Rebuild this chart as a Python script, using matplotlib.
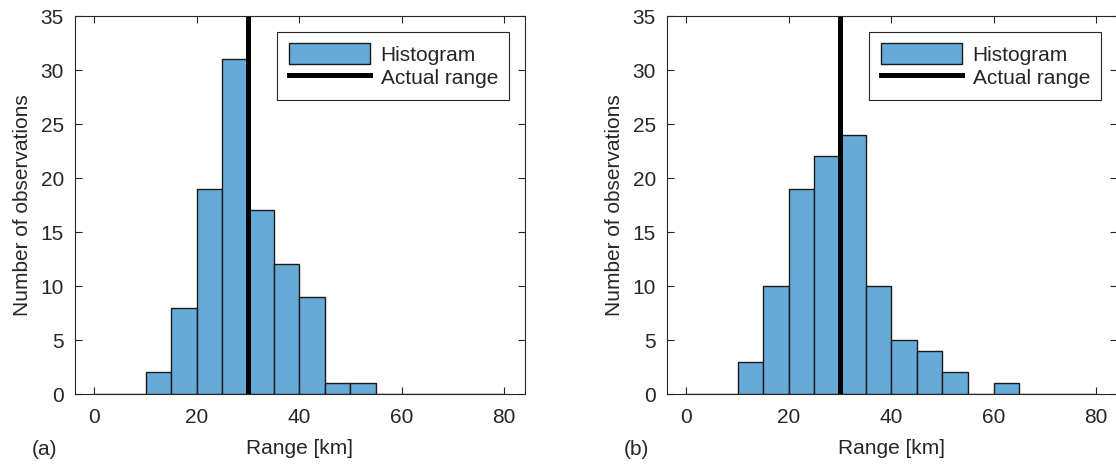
import numpy as np
import matplotlib
matplotlib.use('Agg')
import matplotlib.pyplot as plt

# Histogram data (bin width 5 km, 0 to 80 km)
bin_edges = np.arange(0, 85, 5)
counts_a = [0, 0, 2, 8, 19, 31, 17, 12, 9, 1, 1, 0, 0, 0, 0, 0]
counts_b = [0, 0, 3, 10, 19, 22, 24, 10, 5, 4, 2, 0, 1, 0, 0, 0]
actual_range = 30
panel_labels = ['(a)', '(b)']

plt.rcParams['font.family'] = ['Liberation Sans', 'DejaVu Sans']
plt.rcParams['font.size'] = 15

bar_color = (0.4, 0.668, 0.845)
txt = '#262626'

fig = plt.figure(figsize=(11.16, 4.65), dpi=100)
ax_a = fig.add_axes([75 / 1116, 71 / 465, 450 / 1116, 378 / 465])
ax_b = fig.add_axes([667 / 1116, 71 / 465, 450 / 1116, 378 / 465])

for ax, counts, lab in zip([ax_a, ax_b], [counts_a, counts_b], panel_labels):
    bars = ax.bar(bin_edges[:-1], counts, width=5, align='edge', color=bar_color,
                  edgecolor='#1a1a1a', linewidth=1.0, label='Histogram')
    line = ax.axvline(actual_range, color='black', linewidth=3.6, label='Actual range')
    ax.set_xlim(-3.8, 84.1)
    ax.set_ylim(0, 35)
    ax.set_xticks([0, 20, 40, 60, 80])
    ax.set_yticks(np.arange(0, 36, 5))
    ax.tick_params(direction='in', top=True, right=True, length=5,
                   width=0.8, colors=txt, labelsize=15)
    ax.tick_params(axis='x', pad=10)
    ax.tick_params(axis='y', pad=8)
    for s in ax.spines.values():
        s.set_color(txt)
        s.set_linewidth(0.8)
    ax.set_xlabel('Range [km]', fontsize=15, color=txt, labelpad=9)
    ax.set_ylabel('Number of observations', fontsize=15, color=txt, labelpad=6)
    leg = ax.legend([bars, line], ['Histogram', 'Actual range'],
                    loc='upper right', fancybox=False, framealpha=1,
                    edgecolor=txt, handlelength=3.9, handleheight=1.2,
                    borderaxespad=0.75, labelspacing=0.08, handletextpad=0.5,
                    borderpad=0.55, fontsize=15)
    leg.get_frame().set_linewidth(0.8)
    for t in leg.get_texts():
        t.set_color(txt)
    bbox = ax.get_position()
    fig.text(bbox.x0 - 43 / 1116, 16 / 465, lab, fontsize=15, color=txt,
             ha='left', va='center')

fig.savefig('out.png', dpi=100)
